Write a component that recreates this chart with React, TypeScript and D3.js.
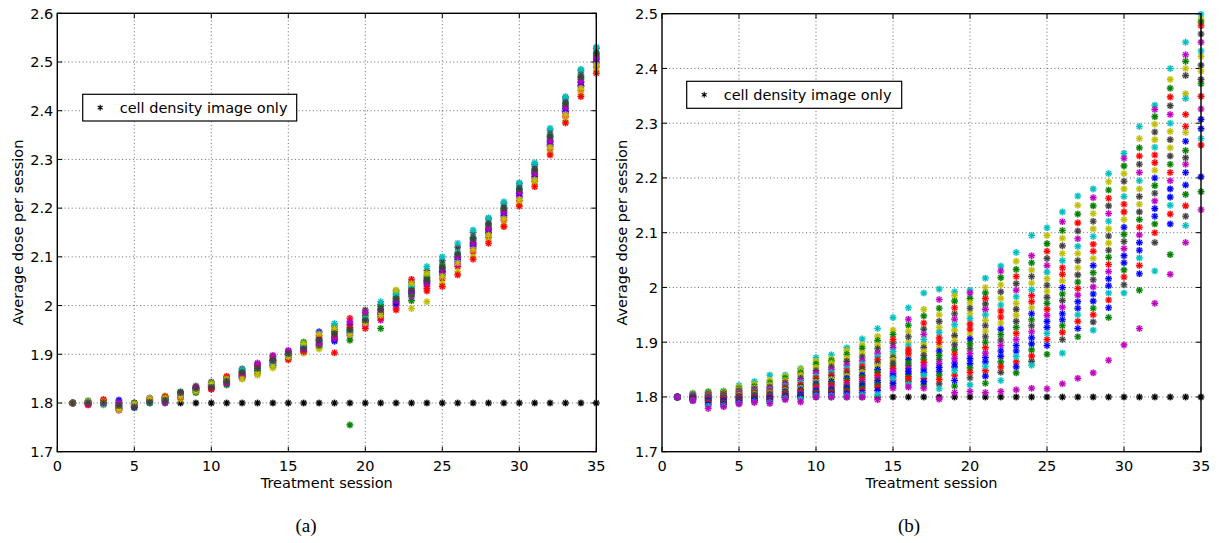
import React from 'react';
import * as d3 from 'd3';

// ---------- data ----------
const sessions = [1,2,3,4,5,6,7,8,9,10,11,12,13,14,15,16,17,18,19,20,21,22,23,24,25,26,27,28,29,30,31,32,33,34,35];
const referenceDose = [1.8,1.8,1.8,1.8,1.8,1.8,1.8,1.8,1.8,1.8,1.8,1.8,1.8,1.8,1.8,1.8,1.8,1.8,1.8,1.8,1.8,1.8,1.8,1.8,1.8,1.8,1.8,1.8,1.8,1.8,1.8,1.8,1.8,1.8,1.8];
const legendLabel = 'cell density image only';
const xTicks = [0,5,10,15,20,25,30,35];
const yTicksA = [1.7,1.8,1.9,2.0,2.1,2.2,2.3,2.4,2.5,2.6];
const yTicksB = [1.7,1.8,1.9,2.0,2.1,2.2,2.3,2.4,2.5];

const B = '#0000ff', G = '#008000', R = '#ff0000', C = '#00bfbf', M = '#bf00bf', Y = '#bfbf00', K = '#404040';
const colorsA = [B,G,R,C,M,Y,K,B,G,R,C,M,Y,K];
const colorsB = [C,Y,G,Y,K,M,C,R,K,Y,B,G,R,M,K,B,G,R,B,C,M];

// panel (a): one row per session, one value per run
const doseA = [
  [1.800,1.800,1.800,1.800,1.800,1.800,1.800,1.800,1.800,1.800,1.800,1.800,1.800,1.800],
  [1.800,1.802,1.798,1.805,1.799,1.801,1.797,1.803,1.800,1.796,1.802,1.799,1.804,1.801],
  [1.803,1.800,1.807,1.798,1.801,1.796,1.804,1.799,1.802,1.806,1.797,1.800,1.803,1.801],
  [1.792,1.787,1.796,1.800,1.785,1.803,1.790,1.806,1.794,1.788,1.798,1.801,1.786,1.795],
  [1.795,1.797,1.792,1.790,1.799,1.794,1.796,1.791,1.800,1.793,1.797,1.795,1.798,1.792],
  [1.804,1.802,1.806,1.800,1.808,1.803,1.810,1.805,1.801,1.807,1.803,1.806,1.809,1.802],
  [1.809,1.806,1.812,1.803,1.810,1.815,1.807,1.811,1.804,1.813,1.808,1.802,1.810,1.806],
  [1.813,1.820,1.816,1.810,1.822,1.808,1.818,1.815,1.823,1.812,1.817,1.819,1.814,1.821],
  [1.826,1.830,1.823,1.833,1.828,1.825,1.835,1.829,1.821,1.831,1.827,1.832,1.824,1.830],
  [1.835,1.838,1.831,1.841,1.829,1.836,1.843,1.833,1.839,1.828,1.837,1.834,1.840,1.832],
  [1.846,1.851,1.842,1.848,1.839,1.853,1.844,1.850,1.837,1.855,1.847,1.841,1.849,1.845],
  [1.855,1.862,1.858,1.866,1.851,1.860,1.870,1.853,1.864,1.857,1.868,1.859,1.849,1.863],
  [1.866,1.874,1.860,1.878,1.869,1.857,1.872,1.880,1.864,1.876,1.868,1.882,1.862,1.871],
  [1.880,1.888,1.876,1.893,1.884,1.872,1.890,1.878,1.896,1.886,1.882,1.898,1.875,1.887],
  [1.896,1.899,1.893,1.904,1.900,1.890,1.906,1.897,1.902,1.889,1.898,1.908,1.895,1.901],
  [1.908,1.915,1.904,1.920,1.911,1.902,1.918,1.913,1.925,1.906,1.916,1.909,1.922,1.912],
  [1.920,1.928,1.915,1.935,1.924,1.911,1.931,1.946,1.918,1.938,1.926,1.922,1.942,1.929],
  [1.935,1.944,1.903,1.951,1.930,1.940,1.958,1.927,1.947,1.937,1.963,1.933,1.953,1.942],
  [1.944,1.755,1.974,1.952,1.938,1.958,1.948,1.962,1.929,1.955,1.945,1.967,1.940,1.950],
  [1.968,1.972,1.962,1.984,1.958,1.977,1.991,1.966,1.980,1.953,1.974,1.986,1.964,1.970],
  [1.985,1.953,1.978,1.994,1.970,1.988,2.002,1.982,1.998,1.975,2.008,1.990,1.980,1.992],
  [2.008,2.015,2.002,2.022,1.995,2.012,2.030,2.005,2.018,1.991,2.025,2.010,2.032,2.014],
  [2.025,2.010,2.035,2.042,2.018,1.994,2.048,2.030,2.022,2.054,2.038,2.028,2.045,2.032],
  [2.045,2.055,2.030,2.062,2.040,2.008,2.072,2.050,2.058,2.035,2.080,2.048,2.066,2.052],
  [2.063,2.075,2.055,2.085,2.068,2.045,2.092,2.070,2.080,2.039,2.100,2.072,2.060,2.078],
  [2.090,2.098,2.080,2.110,2.085,2.070,2.120,2.095,2.104,2.063,2.128,2.100,2.088,2.106],
  [2.122,2.130,2.110,2.140,2.118,2.100,2.150,2.126,2.135,2.095,2.155,2.128,2.115,2.138],
  [2.150,2.160,2.140,2.170,2.148,2.133,2.178,2.155,2.165,2.128,2.180,2.158,2.145,2.168],
  [2.185,2.195,2.175,2.205,2.182,2.165,2.210,2.190,2.198,2.162,2.213,2.192,2.178,2.200],
  [2.225,2.235,2.215,2.245,2.222,2.208,2.250,2.230,2.238,2.204,2.252,2.232,2.218,2.240],
  [2.265,2.275,2.255,2.285,2.262,2.248,2.290,2.270,2.278,2.244,2.293,2.272,2.258,2.280],
  [2.330,2.342,2.320,2.352,2.328,2.312,2.360,2.336,2.346,2.309,2.364,2.338,2.325,2.348],
  [2.398,2.410,2.388,2.420,2.395,2.380,2.426,2.404,2.414,2.375,2.429,2.406,2.392,2.416],
  [2.452,2.464,2.442,2.475,2.450,2.434,2.482,2.458,2.468,2.429,2.485,2.460,2.446,2.470],
  [2.500,2.512,2.490,2.520,2.498,2.482,2.528,2.506,2.515,2.477,2.531,2.508,2.494,2.518],
];

// panel (b): one row per session, one value per run
const doseB = [
  [1.800,1.800,1.800,1.800,1.800,1.800,1.800,1.800,1.800,1.800,1.800,1.800,1.800,1.800,1.800,1.800,1.800,1.800,1.800,1.800,1.800],
  [1.807,1.806,1.805,1.804,1.803,1.803,1.802,1.801,1.801,1.800,1.800,1.799,1.799,1.798,1.797,1.797,1.796,1.795,1.794,1.793,1.793],
  [1.810,1.809,1.808,1.806,1.805,1.804,1.803,1.802,1.801,1.800,1.799,1.798,1.797,1.796,1.794,1.793,1.791,1.789,1.786,1.783,1.779],
  [1.811,1.810,1.809,1.808,1.806,1.805,1.804,1.803,1.802,1.800,1.799,1.798,1.797,1.795,1.794,1.792,1.790,1.788,1.786,1.784,1.782],
  [1.821,1.818,1.815,1.813,1.811,1.809,1.807,1.806,1.804,1.803,1.801,1.800,1.799,1.797,1.796,1.794,1.793,1.791,1.790,1.788,1.787],
  [1.828,1.823,1.819,1.816,1.814,1.812,1.810,1.808,1.806,1.805,1.803,1.802,1.800,1.799,1.798,1.796,1.795,1.794,1.793,1.791,1.790],
  [1.840,1.831,1.826,1.822,1.818,1.816,1.813,1.811,1.809,1.807,1.805,1.803,1.801,1.800,1.798,1.797,1.795,1.794,1.792,1.790,1.788],
  [1.840,1.838,1.834,1.830,1.826,1.823,1.820,1.817,1.815,1.812,1.810,1.808,1.806,1.804,1.803,1.801,1.800,1.799,1.798,1.797,1.795],
  [1.852,1.850,1.844,1.840,1.834,1.830,1.826,1.822,1.819,1.816,1.813,1.811,1.809,1.807,1.805,1.803,1.801,1.800,1.799,1.796,1.791],
  [1.872,1.866,1.860,1.854,1.848,1.843,1.838,1.834,1.830,1.827,1.824,1.821,1.818,1.815,1.812,1.810,1.808,1.806,1.804,1.802,1.800],
  [1.877,1.870,1.866,1.862,1.855,1.850,1.845,1.840,1.836,1.832,1.828,1.825,1.822,1.818,1.815,1.812,1.810,1.808,1.805,1.802,1.800],
  [1.890,1.885,1.878,1.871,1.865,1.858,1.852,1.847,1.842,1.838,1.834,1.830,1.826,1.822,1.818,1.815,1.812,1.809,1.806,1.802,1.800],
  [1.906,1.895,1.889,1.880,1.873,1.866,1.860,1.855,1.850,1.845,1.840,1.836,1.832,1.828,1.824,1.820,1.816,1.812,1.808,1.804,1.800],
  [1.925,1.911,1.903,1.895,1.888,1.880,1.874,1.868,1.862,1.856,1.850,1.845,1.840,1.835,1.830,1.826,1.822,1.818,1.812,1.805,1.795],
  [1.945,1.922,1.914,1.878,1.898,1.890,1.883,1.905,1.872,1.867,1.843,1.857,1.852,1.847,1.862,1.838,1.821,1.830,1.825,1.834,1.816],
  [1.963,1.900,1.931,1.920,1.910,1.942,1.893,1.886,1.857,1.874,1.868,1.862,1.880,1.852,1.828,1.842,1.837,1.833,1.847,1.823,1.818],
  [1.990,1.960,1.948,1.897,1.924,1.914,1.905,1.935,1.890,1.883,1.851,1.869,1.863,1.857,1.876,1.845,1.822,1.834,1.828,1.840,1.816],
  [1.997,1.927,1.962,1.950,1.938,1.978,1.918,1.908,1.868,1.892,1.884,1.876,1.900,1.861,1.824,1.847,1.840,1.832,1.854,1.815,1.796],
  [1.992,1.985,1.975,1.922,1.952,1.942,1.932,1.963,1.912,1.903,1.862,1.886,1.878,1.870,1.895,1.855,1.820,1.840,1.830,1.848,1.808],
  [1.995,1.952,1.980,1.972,1.962,1.990,1.943,1.933,1.888,1.915,1.906,1.897,1.924,1.879,1.835,1.861,1.853,1.845,1.870,1.822,1.810],
  [2.017,2.000,1.990,1.940,1.970,1.960,1.950,1.980,1.930,1.920,1.872,1.900,1.890,1.880,1.910,1.864,1.825,1.848,1.838,1.856,1.808],
  [2.039,1.980,2.018,2.005,1.992,2.030,1.968,1.957,1.904,1.935,1.924,1.914,1.946,1.894,1.845,1.874,1.864,1.855,1.884,1.830,1.810],
  [2.064,2.048,2.033,1.971,2.007,1.995,1.983,2.020,1.960,1.949,1.894,1.927,1.916,1.905,1.938,1.884,1.844,1.864,1.855,1.874,1.813],
  [2.095,2.008,2.045,2.032,2.020,2.058,1.996,1.985,1.930,1.963,1.952,1.941,1.974,1.919,1.865,1.897,1.886,1.875,1.908,1.858,1.816],
  [2.109,2.095,2.080,2.016,2.053,2.040,2.028,2.066,2.004,1.993,1.938,1.971,1.960,1.949,1.982,1.927,1.878,1.905,1.894,1.916,1.815],
  [2.138,2.062,2.104,2.090,2.076,2.120,2.049,2.036,1.976,2.012,2.000,1.988,2.024,1.964,1.905,1.941,1.930,1.918,1.952,1.880,1.824],
  [2.167,2.150,2.134,2.062,2.103,2.089,2.075,2.118,2.049,2.036,1.974,2.010,1.998,1.986,2.023,1.962,1.910,1.938,1.925,1.950,1.834],
  [2.180,2.107,2.149,2.135,2.121,2.164,2.093,2.079,2.014,2.053,2.040,2.027,2.066,2.001,1.937,1.975,1.962,1.950,1.988,1.922,1.844],
  [2.208,2.193,2.178,2.107,2.149,2.135,2.121,2.163,2.094,2.081,2.016,2.055,2.042,2.029,2.068,2.003,1.945,1.977,1.963,1.990,1.867],
  [2.245,2.180,2.222,2.208,2.194,2.236,2.166,2.152,2.084,2.124,2.110,2.097,2.138,2.071,2.005,2.045,2.032,2.019,2.058,1.990,1.895],
  [2.294,2.272,2.255,2.180,2.225,2.210,2.195,2.240,2.166,2.152,2.082,2.124,2.110,2.096,2.138,2.068,1.995,2.040,2.025,2.054,1.925],
  [2.333,2.270,2.312,2.298,2.284,2.325,2.256,2.242,2.172,2.214,2.200,2.186,2.228,2.158,2.082,2.130,2.116,2.100,2.144,2.030,1.971],
  [2.400,2.380,2.364,2.285,2.332,2.316,2.300,2.348,2.270,2.255,2.180,2.225,2.210,2.195,2.240,2.165,2.060,2.134,2.116,2.150,2.024],
  [2.448,2.354,2.413,2.400,2.387,2.425,2.345,2.316,2.237,2.283,2.267,2.250,2.294,2.225,2.130,2.187,2.170,2.149,2.210,2.113,2.082],
  [2.499,2.490,2.485,2.422,2.463,2.448,2.432,2.478,2.406,2.395,2.307,2.372,2.349,2.326,2.380,2.290,2.175,2.260,2.202,2.272,2.142],
];

// ---------- drawing ----------
const FONT = '"DejaVu Sans", "Liberation Sans", Arial, sans-serif';
const FS = 14.5;

function Star({ x, y, color }: { x: number; y: number; color: string }) {
  const r = 3.3;
  const q = r * 0.72;
  const d = `M${x - r},${y}H${x + r}M${x},${y - r}V${y + r}M${x - q},${y - q}L${x + q},${y + q}M${x - q},${y + q}L${x + q},${y - q}`;
  return (
    <g>
      <circle cx={x} cy={y} r={3.5} fill={color} opacity={0.32} />
      <path d={d} stroke={color} strokeWidth={1.15} fill="none" />
    </g>
  );
}

type PanelProps = {
  left: number; right: number; top: number; bottom: number;
  yDomain: [number, number]; yTicks: number[];
  rows: number[][]; colors: string[];
  legend: { x: number; y: number; w: number; h: number };
  ylabelX: number; caption: string; captionX: number;
};

function Panel(p: PanelProps) {
  const x = d3.scaleLinear().domain([0, 35]).range([p.left, p.right]);
  const y = d3.scaleLinear().domain(p.yDomain).range([p.bottom, p.top]);
  const nRuns = p.rows[0].length;
  const runs = d3.range(nRuns);
  const tickLen = 5;
  const fmt = (v: number) => (Math.abs(v - 2) < 1e-9 ? '2' : d3.format('.1f')(v));
  const lx = p.legend.x + 17.5;
  const ly = p.legend.y + p.legend.h / 2;
  return (
    <g>
      {/* grid */}
      {xTicks.slice(1, -1).map((t) => (
        <line key={'gx' + t} x1={x(t)} x2={x(t)} y1={p.top} y2={p.bottom} stroke="#444" strokeWidth={0.8} strokeDasharray="1,2.6" />
      ))}
      {p.yTicks.slice(1, -1).map((t) => (
        <line key={'gy' + t} x1={p.left} x2={p.right} y1={y(t)} y2={y(t)} stroke="#444" strokeWidth={0.8} strokeDasharray="1,2.6" />
      ))}
      {/* ticks */}
      {xTicks.map((t) => (
        <g key={'tx' + t}>
          <line x1={x(t)} x2={x(t)} y1={p.bottom} y2={p.bottom - tickLen} stroke="#000" strokeWidth={1} />
          <line x1={x(t)} x2={x(t)} y1={p.top} y2={p.top + tickLen} stroke="#000" strokeWidth={1} />
          <text x={x(t)} y={p.bottom + 19.5} textAnchor="middle" fontFamily={FONT} fontSize={FS}>{t}</text>
        </g>
      ))}
      {p.yTicks.map((t) => (
        <g key={'ty' + t}>
          <line x1={p.left} x2={p.left + tickLen} y1={y(t)} y2={y(t)} stroke="#000" strokeWidth={1} />
          <line x1={p.right} x2={p.right - tickLen} y1={y(t)} y2={y(t)} stroke="#000" strokeWidth={1} />
          <text x={p.left - 4} y={y(t) + 5.3} textAnchor="end" fontFamily={FONT} fontSize={FS}>{fmt(t)}</text>
        </g>
      ))}
      {/* reference series */}
      {sessions.map((s, i) => (
        <Star key={'k' + s} x={x(s)} y={y(referenceDose[i])} color="#000" />
      ))}
      {/* runs */}
      {runs.map((r) => (
        <g key={'run' + r}>
          {sessions.map((s, i) => {
            const v = p.rows[i][r];
            if (v > p.yDomain[1] + 1e-9) return null;
            return <Star key={s} x={x(s)} y={y(v)} color={p.colors[r]} />;
          })}
        </g>
      ))}
      {/* box */}
      <rect x={p.left} y={p.top} width={p.right - p.left} height={p.bottom - p.top} fill="none" stroke="#000" strokeWidth={1.4} />
      {/* legend */}
      <rect x={p.legend.x} y={p.legend.y} width={p.legend.w} height={p.legend.h} fill="#fff" stroke="#000" strokeWidth={1.2} />
      <path
        d={`M${lx},${ly - 3}V${ly + 3}M${lx - 2.5},${ly - 1.6}L${lx + 2.5},${ly + 1.6}M${lx - 2.5},${ly + 1.6}L${lx + 2.5},${ly - 1.6}`}
        stroke="#000" strokeWidth={1.1} />
      <text x={p.legend.x + 37} y={ly + 5} fontFamily={FONT} fontSize={FS}>{legendLabel}</text>
      {/* axis labels */}
      <text x={(p.left + p.right) / 2} y={p.bottom + 36} textAnchor="middle" fontFamily={FONT} fontSize={FS}>Treatment session</text>
      <text transform={`translate(${p.ylabelX},${(p.top + p.bottom) / 2}) rotate(-90)`} textAnchor="middle" fontFamily={FONT} fontSize={FS}>Average dose per session</text>
      <text x={p.captionX} y={532} textAnchor="middle" fontFamily='"Liberation Serif", "DejaVu Serif", serif' fontSize={19}>{p.caption}</text>
    </g>
  );
}

export default function App() {
  return (
    <svg width={1223} height={543} style={{ position: 'absolute', left: 0, top: 0, background: '#fff' }}>
      <rect x={0} y={0} width={1223} height={543} fill="#fff" />
      <Panel left={57.3} right={596.3} top={13.3} bottom={451.7} yDomain={[1.7, 2.6]} yTicks={yTicksA}
        rows={doseA} colors={colorsA} legend={{ x: 82.7, y: 94.3, w: 214, h: 26.7 }} ylabelX={23} caption="(a)" captionX={306} />
      <Panel left={662} right={1201} top={13.7} bottom={451.7} yDomain={[1.7, 2.5]} yTicks={yTicksB}
        rows={doseB} colors={colorsB} legend={{ x: 686.7, y: 81.3, w: 215, h: 27 }} ylabelX={627} caption="(b)" captionX={909} />
    </svg>
  );
}
